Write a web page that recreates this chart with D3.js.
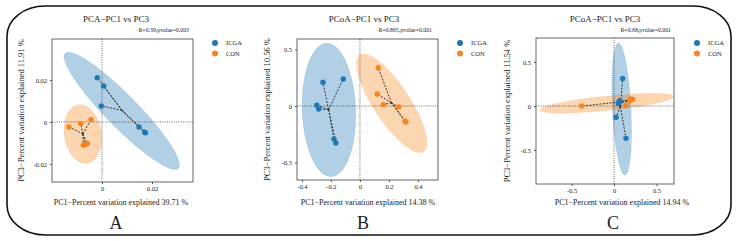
<!DOCTYPE html>
<html>
<head>
<meta charset="utf-8">
<script src="https://cdn.jsdelivr.net/npm/d3@7"></script>
<style>
  body { margin: 0; background: #fff; }
  text { font-family: "Liberation Serif", "DejaVu Serif", serif; fill: #222; }
</style>
</head>
<body>
<svg id="chart" width="737" height="241"></svg>
<script>
// ---- data ----
var groups = ["ICGA", "CON"];
var colors = ["#1f77b4", "#f5861f"];

// panel A : PCA
var pcaICGA = [[-0.0019, 0.0211], [0.0007, 0.0171], [-0.0003, 0.0076], [0.0148, -0.0024], [0.0171, -0.0049], [0.0174, -0.0052]];
var pcaCON = [[-0.0132, -0.0024], [-0.0085, -0.0008], [-0.0044, 0.0011], [-0.0075, -0.0111], [-0.0065, -0.0106], [-0.0059, -0.0103]];
// ellipse: centre x, centre y, axis1 x, axis1 y, axis2 x, axis2 y (data units)
var pcaEllICGA = [0.0079, 0.0053, 0.0226, -0.0274, 0.0046, 0.0053];
var pcaEllCON = [-0.0077, -0.0058, 0.0018, -0.0139, 0.0073, 0.0013];

// panel B : PCoA
var pcoaBICGA = [[-0.255, 0.21], [-0.115, 0.239], [-0.297, 0.006], [-0.285, -0.027], [-0.179, -0.292], [-0.166, -0.327]];
var pcoaBCON = [[0.126, 0.339], [0.119, 0.106], [0.161, 0.012], [0.267, -0.009], [0.31, -0.133], [0.317, -0.142]];
var pcoaBEllICGA = [-0.214, -0.035, 0.012, -0.59, 0.184, -0.006];
var pcoaBEllCON = [0.219, 0.024, 0.219, -0.427, 0.104, 0.087];

// panel C : PCoA
var pcoaCICGA = [[0.102, 0.314], [0.051, 0.03], [0.024, -0.128], [0.141, -0.367], [0.06, 0.05], [0.07, 0.06]];
var pcoaCCON = [[-0.38, 0.0], [0.22, 0.076], [0.137, 0.003], [0.2, 0.08], [0.18, 0.06], [0.19, 0.07]];
var pcoaCEllICGA = [0.09, -0.034, 0.039, -0.75, 0.108, 0.005];
var pcoaCEllCON = [-0.086, 0.031, 0.785, 0.076, 0.008, -0.08];

var titles = ["PCA\u2212PC1 vs PC3", "PCoA\u2212PC1 vs PC3", "PCoA\u2212PC1 vs PC3"];
var stats = ["R=0.39,pvalue=0.003", "R=0.865,pvalue=0.001", "R=0.68,pvalue=0.001"];
var xLabels = ["PC1\u2212Percent variation explained 39.71 %", "PC1\u2212Percent variation explained 14.38 %", "PC1\u2212Percent variation explained 14.94 %"];
var yLabels = ["PC3\u2212Percent variation explained 11.91 %", "PC3\u2212Percent variation explained 10.56 %", "PC3\u2212Percent variation explained 11.54 %"];
var letters = ["A", "B", "C"];

var xTicksA = [0, 0.02], xTickLabelsA = ["0", "0.02"];
var yTicksA = [-0.02, 0, 0.02], yTickLabelsA = ["-0.02", "0", "0.02"];
var xTicksB = [-0.4, -0.2, 0, 0.2, 0.4], xTickLabelsB = ["-0.4", "-0.2", "0", "0.2", "0.4"];
var yTicksB = [-0.5, 0, 0.5], yTickLabelsB = ["-0.5", "0", "0.5"];
var xTicksC = [-0.5, 0, 0.5], xTickLabelsC = ["-0.5", "0", "0.5"];
var yTicksC = [-0.5, 0, 0.5], yTickLabelsC = ["-0.5", "0", "0.5"];

// ---- layout ----
var panels = [
  { box: [52, 193, 39, 182], xd: [-0.02, 0.0364], yd: [-0.0286, 0.0395],
    xt: xTicksA, xtl: xTickLabelsA, yt: yTicksA, ytl: yTickLabelsA,
    pts: [pcaICGA, pcaCON], ell: [pcaEllICGA, pcaEllCON],
    titleX: 116, statX: 189, legX: 215, xlabX: 121, ylabX: 24, letterX: 116 },
  { box: [297, 438, 39, 180], xd: [-0.434, 0.538], yd: [-0.655, 0.593],
    xt: xTicksB, xtl: xTickLabelsB, yt: yTicksB, ytl: yTickLabelsB,
    pts: [pcoaBICGA, pcoaBCON], ell: [pcoaBEllICGA, pcoaBEllCON],
    titleX: 364, statX: 432, legX: 460, xlabX: 368, ylabX: 270, letterX: 363 },
  { box: [536, 674, 38, 184], xd: [-0.918, 0.706], yd: [-0.886, 0.773],
    xt: xTicksC, xtl: xTickLabelsC, yt: yTicksC, ytl: yTickLabelsC,
    pts: [pcoaCICGA, pcoaCCON], ell: [pcoaCEllICGA, pcoaCEllCON],
    titleX: 605, statX: 671, legX: 697, xlabX: 622, ylabX: 510, letterX: 613 }
];

var svg = d3.select("#chart");

// outer rounded frame
svg.append("rect")
  .attr("x", 7).attr("y", 6).attr("width", 724).attr("height", 229)
  .attr("rx", 38).attr("ry", 30)
  .attr("fill", "none").attr("stroke", "#111").attr("stroke-width", 1.6);

panels.forEach(function(p, i) {
  var g = svg.append("g");
  var x = d3.scaleLinear().domain(p.xd).range([p.box[0], p.box[1]]);
  var y = d3.scaleLinear().domain(p.yd).range([p.box[3], p.box[2]]);

  var clipId = "clip" + i;
  g.append("clipPath").attr("id", clipId).append("rect")
    .attr("x", p.box[0]).attr("y", p.box[2])
    .attr("width", p.box[1] - p.box[0]).attr("height", p.box[3] - p.box[2]);
  var inner = g.append("g").attr("clip-path", "url(#" + clipId + ")");

  // ellipses
  var line = d3.line().x(function(d) { return x(d[0]); }).y(function(d) { return y(d[1]); });
  p.ell.forEach(function(e, k) {
    var ring = d3.range(0, 2 * Math.PI + 0.01, Math.PI / 90).map(function(t) {
      return [e[0] + e[2] * Math.cos(t) + e[4] * Math.sin(t),
              e[1] + e[3] * Math.cos(t) + e[5] * Math.sin(t)];
    });
    inner.append("path").datum(ring)
      .attr("d", line)
      .attr("fill", colors[k]).attr("fill-opacity", 0.35)
      .attr("stroke", colors[k]).attr("stroke-opacity", 0.25).attr("stroke-width", 0.6);
  });

  // zero reference lines
  inner.append("line")
    .attr("x1", x(0)).attr("x2", x(0)).attr("y1", p.box[2]).attr("y2", p.box[3])
    .attr("stroke", "#444").attr("stroke-width", 0.8).attr("stroke-dasharray", "1,1.3");
  inner.append("line")
    .attr("x1", p.box[0]).attr("x2", p.box[1]).attr("y1", y(0)).attr("y2", y(0))
    .attr("stroke", "#444").attr("stroke-width", 0.8).attr("stroke-dasharray", "1,1.3");

  // spider lines from group centroid
  p.pts.forEach(function(pts, k) {
    var cx = d3.mean(pts, function(d) { return d[0]; });
    var cy = d3.mean(pts, function(d) { return d[1]; });
    inner.selectAll(null).data(pts).enter().append("line")
      .attr("x1", x(cx)).attr("y1", y(cy))
      .attr("x2", function(d) { return x(d[0]); })
      .attr("y2", function(d) { return y(d[1]); })
      .attr("stroke", "#222").attr("stroke-width", 0.9).attr("stroke-dasharray", "2,1.4");
  });

  // points
  p.pts.forEach(function(pts, k) {
    inner.selectAll(null).data(pts).enter().append("circle")
      .attr("cx", function(d) { return x(d[0]); })
      .attr("cy", function(d) { return y(d[1]); })
      .attr("r", 2.7)
      .attr("fill", colors[k]);
  });

  // box
  g.append("rect")
    .attr("x", p.box[0]).attr("y", p.box[2])
    .attr("width", p.box[1] - p.box[0]).attr("height", p.box[3] - p.box[2])
    .attr("fill", "none").attr("stroke", "#555").attr("stroke-width", 0.9);

  // axes
  var xAxis = d3.axisBottom(x).tickValues(p.xt).tickSize(2).tickPadding(2)
    .tickFormat(function(d, j) { return p.xtl[j]; });
  var yAxis = d3.axisLeft(y).tickValues(p.yt).tickSize(2).tickPadding(3)
    .tickFormat(function(d, j) { return p.ytl[j]; });
  var gx = g.append("g").attr("transform", "translate(0," + p.box[3] + ")").call(xAxis);
  var gy = g.append("g").attr("transform", "translate(" + p.box[0] + ",0)").call(yAxis);
  [gx, gy].forEach(function(a) {
    a.select(".domain").remove();
    a.selectAll(".tick line").attr("stroke", "#555");
    a.selectAll(".tick text").attr("font-family", "Liberation Serif").attr("font-size", 6.5).attr("fill", "#222");
  });

  // texts
  g.append("text").attr("x", p.titleX).attr("y", 22).attr("text-anchor", "middle")
    .attr("font-size", 9).text(titles[i]);
  g.append("text").attr("x", p.statX).attr("y", 32).attr("text-anchor", "end")
    .attr("font-size", 5.8).text(stats[i]);
  g.append("text").attr("x", p.xlabX).attr("y", 205).attr("text-anchor", "middle")
    .attr("font-size", 8).text(xLabels[i]);
  g.append("text")
    .attr("transform", "translate(" + p.ylabX + "," + ((p.box[2] + p.box[3]) / 2) + ") rotate(-90)")
    .attr("text-anchor", "middle").attr("font-size", 8.5).text(yLabels[i]);
  g.append("text").attr("x", p.letterX).attr("y", 229).attr("text-anchor", "middle")
    .attr("font-size", 18).text(letters[i]);

  // legend
  groups.forEach(function(name, k) {
    var ly = 43 + k * 10.5;
    g.append("circle").attr("cx", p.legX).attr("cy", ly).attr("r", 3).attr("fill", colors[k]);
    g.append("text").attr("x", p.legX + 11).attr("y", ly + 2.2).attr("font-size", 6.5).text(name);
  });
});
</script>
</body>
</html>
